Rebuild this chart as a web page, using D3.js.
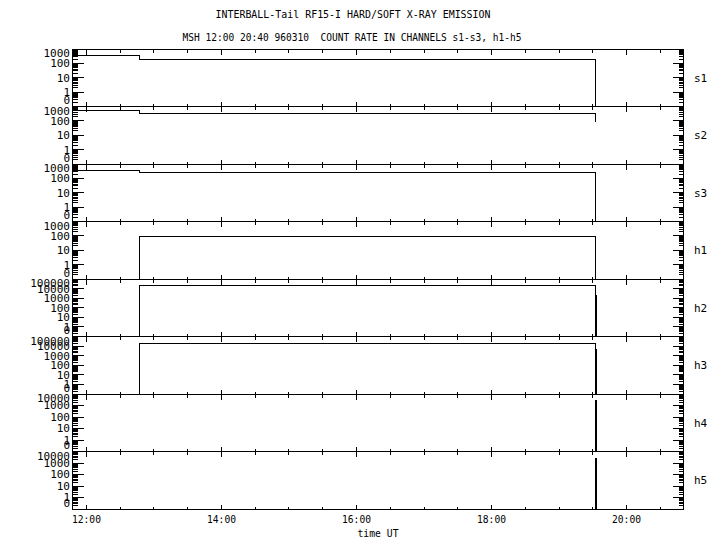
<!DOCTYPE html>
<html>
<head>
<meta charset="utf-8">
<script src="https://cdn.jsdelivr.net/npm/d3@7"></script>
<style>
  body { margin: 0; background: #fff; }
  text { font-family: "DejaVu Sans Mono", monospace; font-size: 11px; fill: #000; white-space: pre; }
  .ln { fill: none; stroke: #000; stroke-width: 1; shape-rendering: crispEdges; }
</style>
</head>
<body>
<div id="chart"></div>
<script>

var title1 = "INTERBALL-Tail RF15-I HARD/SOFT X-RAY EMISSION";
var title2 = "MSH 12:00 20:40 960310  COUNT RATE IN CHANNELS s1-s3, h1-h5";

// channels top to bottom and the top of each log axis
var channels = ["s1", "s2", "s3", "h1", "h2", "h3", "h4", "h5"];
var channelMax = [1000, 1000, 1000, 1000, 100000, 100000, 10000, 10000];

// count rate, [hour UT, counts] held until next point, 0 = no counts
var s1 = [[11.793, 340], [12.785, 178], [19.541, 0]];
var s2 = [[11.793, 500], [12.785, 310], [19.541, 90]];
var s3 = [[11.793, 365], [12.785, 263], [19.541, 0]];
var h1 = [[11.793, 0], [12.785, 90], [19.541, 0]];
var h2 = [[11.793, 0], [12.785, 22000], [19.541, 0], [19.542, 1700], [19.556, 0]];
var h3 = [[11.793, 0], [12.785, 20000], [19.541, 0], [19.542, 4900], [19.556, 0]];
var h4 = [[11.793, 0], [19.541, 3000], [19.556, 0]];
var h5 = [[11.793, 0], [19.541, 2400], [19.556, 0]];
var series = [s1, s2, s3, h1, h2, h3, h4, h5];

var timeRange = [11.793, 20.844];
var majorHours = [12, 14, 16, 18, 20];
var majorLabels = ["12:00", "14:00", "16:00", "18:00", "20:00"];
var minorHours = [12.5, 13, 13.5, 14.5, 15, 15.5, 16.5, 17, 17.5, 18.5, 19, 19.5, 20.5];

var width = 720, height = 550;
var plotLeft = 72.5, plotRight = 683.5, plotTop = 49, plotBottom = 509;
var ph = (plotBottom - plotTop) / channels.length;

// snap to pixel centres so the 1px lines stay sharp
function px(v) { return Math.round(v - 0.5) + 0.5; }

var x = d3.scaleLinear().domain(timeRange).range([plotLeft, plotRight]);

var svg = d3.select("#chart").append("svg")
  .attr("width", width)
  .attr("height", height);

svg.append("text").attr("x", 353).attr("y", 18).attr("text-anchor", "middle")
  .attr("textLength", 275).attr("lengthAdjust", "spacingAndGlyphs").text(title1);
svg.append("text").attr("x", 352).attr("y", 41).attr("text-anchor", "middle")
  .attr("textLength", 339).attr("lengthAdjust", "spacingAndGlyphs").text(title2);

channels.forEach(function(name, i) {
  var y0 = plotTop + i * ph, y1 = y0 + ph;
  var ymax = channelMax[i];
  var y = d3.scaleLog().domain([0.1, ymax]).range([y1, y0]);
  var g = svg.append("g");

  // frame
  g.append("rect").attr("class", "ln")
    .attr("x", px(plotLeft)).attr("y", px(y0))
    .attr("width", px(plotRight) - px(plotLeft)).attr("height", px(y1) - px(y0));

  // time ticks on top and bottom edge, pointing in
  function tick(h, len) {
    var xx = px(x(h));
    g.append("path").attr("class", "ln")
      .attr("d", "M" + xx + "," + px(y0) + "v" + len + "M" + xx + "," + px(y1) + "v" + (-len));
  }
  majorHours.forEach(function(h) { tick(h, 5); });
  minorHours.forEach(function(h) { tick(h, 3); });

  // log ticks, left and right
  var decades = Math.round(Math.log10(ymax));
  for (var n = -1; n < decades; n++) {
    for (var k = 1; k <= 9; k++) {
      var yy = px(y(k * Math.pow(10, n)));
      var len = k == 1 ? 11 : 5;
      g.append("path").attr("class", "ln")
        .attr("d", "M" + px(plotLeft) + "," + yy + "h" + len + "M" + px(plotRight) + "," + yy + "h" + (-len));
    }
  }

  // tick labels, kept inside the panel
  var labels = [];
  for (var e = decades; e >= 0; e--) labels.push([Math.pow(10, e), String(Math.pow(10, e))]);
  labels.push([0.1, "0"]);
  labels.forEach(function(l) {
    var cy = Math.max(y0 + 4.5, Math.min(y1 - 6, y(l[0])));
    g.append("text").attr("x", 70).attr("y", cy).attr("dy", "0.36em")
      .attr("text-anchor", "end").text(l[1]);
  });

  g.append("text").attr("x", 694).attr("y", (y0 + y1) / 2).attr("dy", "0.36em").text(name);

  var line = d3.line()
    .x(function(d) { return px(x(d[0])); })
    .y(function(d) { return px(d[1] > 0 ? y(d[1]) : y(0.1)); })
    .curve(d3.curveStepAfter);

  g.append("path").datum(series[i]).attr("class", "ln").attr("d", line);
});

majorHours.forEach(function(h, i) {
  svg.append("text").attr("x", x(h)).attr("y", 523).attr("text-anchor", "middle")
    .attr("textLength", 29).attr("lengthAdjust", "spacingAndGlyphs").text(majorLabels[i]);
});

svg.append("text").attr("x", 378).attr("y", 537).attr("text-anchor", "middle")
  .attr("textLength", 41).attr("lengthAdjust", "spacingAndGlyphs").text("time UT");

</script>
</body>
</html>
